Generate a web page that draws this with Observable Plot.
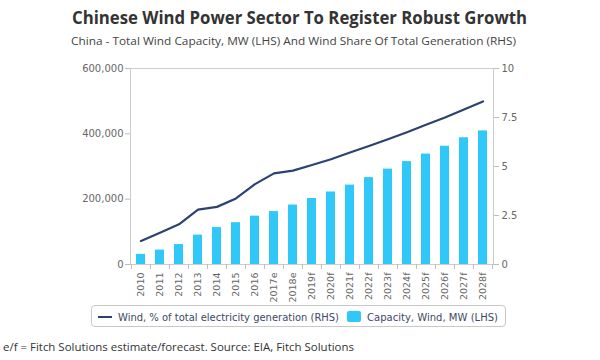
<!DOCTYPE html>
<html><head><meta charset="utf-8">
<script src="https://cdn.jsdelivr.net/npm/d3@7"></script>
<script src="https://cdn.jsdelivr.net/npm/@observablehq/plot@0.6"></script>
<style>
body{margin:0;background:#fff;}
#wrap{position:relative;width:600px;height:360px;overflow:hidden;background:#fff;}
.t{position:absolute;white-space:nowrap;line-height:1;transform-origin:0 0;}
#title{font-family:"Open Sans";font-weight:700;font-size:17px;color:#333;top:9px;left:72px;}
#subtitle{font-family:"Open Sans";font-size:11px;color:#444;top:35px;left:71px;}
#caption{font-family:"Open Sans";font-size:11px;color:#333;top:341px;left:3px;}
#chart{position:absolute;top:56px;left:0;}
#legend{position:absolute;left:91px;top:305px;width:413px;height:20px;border:1px solid #c8c8c8;border-radius:4px;}
.lg{font-family:"DejaVu Sans";font-size:11px;color:#3d4a66;}
#sw1{position:absolute;left:98px;top:316px;width:14px;height:2px;background:#2c4370;}
#sw2{position:absolute;left:347px;top:311px;width:14px;height:11px;background:#30c8f8;border-radius:2px;}
</style></head>
<body><div id="wrap">
<div class="t" id="title" data-w="455">Chinese Wind Power Sector To Register Robust Growth</div>
<div class="t" id="subtitle" data-w="445">China - Total Wind Capacity, MW (LHS) And Wind Share Of Total Generation (RHS)</div>
<div id="chart"></div>
<div id="legend"></div>
<div id="sw1"></div>
<div class="t lg" id="lg1" style="left:118px;top:312px;" data-w="221">Wind, % of total electricity generation (RHS)</div>
<div id="sw2"></div>
<div class="t lg" id="lg2" style="left:367px;top:312px;" data-w="131">Capacity, Wind, MW (LHS)</div>
<div class="t" id="caption" data-w="351">e/f = Fitch Solutions estimate/forecast. Source: EIA, Fitch Solutions</div>
</div>
<script>
const years = ["2010","2011","2012","2013","2014","2015","2016","2017e","2018e","2019f","2020f","2021f","2022f","2023f","2024f","2025f","2026f","2027f","2028f"];
const capacity = [31000,44000,61000,90000,113000,128000,148000,162000,182000,202000,222000,243000,266000,292000,315000,338000,362000,388000,409000];
const windShare = [1.2,1.62,2.05,2.8,2.94,3.37,4.1,4.65,4.79,5.08,5.37,5.71,6.05,6.39,6.75,7.13,7.5,7.91,8.32];
const leftTicks = [0,200000,400000,600000];
const rightTicks = [0,2.5,5,7.5,10];

const k = 600000/10;
const data = years.map((y,i)=>({year:y, cap:capacity[i], share:windShare[i]}));
const ml=130, mr=107, W=600, n=years.length, pIn=0.55, pOut=0.275;
const step=(W-ml-mr)/(n-pIn+2*pOut);

const chart = Plot.plot({
  width:W, height:247, marginTop:12, marginBottom:39, marginLeft:ml, marginRight:mr,
  style:{fontFamily:"DejaVu Sans", fontSize:"10px", color:"#666", background:"transparent"},
  x:{type:"band", domain:years, paddingInner:pIn, paddingOuter:pOut},
  y:{domain:[0,600000]},
  marks:[
    Plot.frame({stroke:"#ccc"}),
    Plot.barY(data,{x:"year", y:"cap", fill:"#30c8f8"}),
    Plot.lineY(data,{x:"year", y:d=>d.share*k, stroke:"#2c4370", strokeWidth:2.2}),
    Plot.axisY(leftTicks,{anchor:"left", tickSize:5, tickPadding:2, tickFormat:d3.format(","), stroke:"#bbb", label:null}),
    Plot.axisY(rightTicks.map(v=>v*k),{anchor:"right", tickSize:5, tickPadding:3, tickFormat:d=>String(d/k), stroke:"#bbb", label:null}),
    Plot.axisX({tickSize:0, tickRotate:-90, tickPadding:8, fontSize:9.5, label:null}),
    Plot.ruleX(years,{x:d=>d, dx:-step/2, y1:0, y2:-15000, stroke:"#bbb"}),
    Plot.ruleX([years[n-1]],{x:d=>d, dx:step/2, y1:0, y2:-15000, stroke:"#bbb"})
  ]
});
document.getElementById("chart").appendChild(chart);
document.querySelectorAll("[data-w]").forEach(el=>{
  const w = el.getBoundingClientRect().width;
  el.style.transform = `scaleX(${(+el.dataset.w)/w})`;
});
</script>
</body></html>
